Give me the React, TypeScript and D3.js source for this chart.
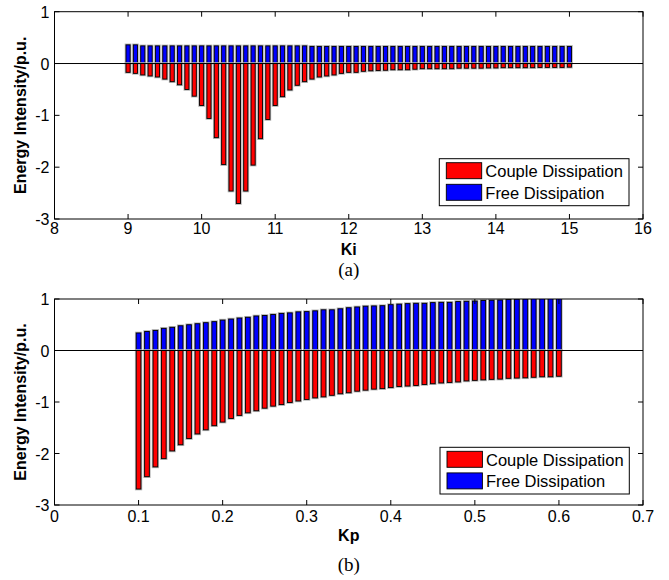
import React from "react";
import * as d3 from "d3";

const kiCats = [
  9.0, 9.1, 9.2, 9.3, 9.4, 9.5, 9.6, 9.7, 9.8, 9.9,
  10.0, 10.1, 10.2, 10.3, 10.4, 10.5, 10.6, 10.7, 10.8, 10.9,
  11.0, 11.1, 11.2, 11.3, 11.4, 11.5, 11.6, 11.7, 11.8, 11.9,
  12.0, 12.1, 12.2, 12.3, 12.4, 12.5, 12.6, 12.7, 12.8, 12.9,
  13.0, 13.1, 13.2, 13.3, 13.4, 13.5, 13.6, 13.7, 13.8, 13.9,
  14.0, 14.1, 14.2, 14.3, 14.4, 14.5, 14.6, 14.7, 14.8, 14.9, 15.0,
];
const kiCouple = [
  -0.17, -0.19, -0.22, -0.24, -0.26, -0.3, -0.35, -0.41, -0.5, -0.63,
  -0.81, -1.06, -1.43, -1.95, -2.46, -2.7, -2.46, -1.96, -1.45, -1.08,
  -0.81, -0.64, -0.51, -0.42, -0.35, -0.3, -0.26, -0.24, -0.22, -0.19,
  -0.17, -0.17, -0.15, -0.14, -0.135, -0.13, -0.12, -0.12, -0.12, -0.11,
  -0.1, -0.1, -0.1, -0.1, -0.1, -0.09, -0.09, -0.09, -0.09, -0.085,
  -0.085, -0.08, -0.08, -0.08, -0.08, -0.08, -0.075, -0.075, -0.075, -0.075, -0.07,
];
const kiFree = [
  0.36, 0.36, 0.34, 0.34, 0.34, 0.34, 0.34, 0.34, 0.34, 0.34,
  0.34, 0.34, 0.34, 0.34, 0.34, 0.34, 0.34, 0.34, 0.34, 0.34,
  0.34, 0.34, 0.34, 0.34, 0.34, 0.33, 0.33, 0.33, 0.33, 0.33,
  0.33, 0.33, 0.33, 0.33, 0.33, 0.33, 0.33, 0.33, 0.33, 0.33,
  0.33, 0.33, 0.33, 0.33, 0.33, 0.33, 0.33, 0.33, 0.33, 0.33,
  0.33, 0.33, 0.33, 0.33, 0.33, 0.33, 0.33, 0.33, 0.33, 0.33, 0.33,
];

const kpCats = [
  0.1, 0.11, 0.12, 0.13, 0.14, 0.15, 0.16, 0.17, 0.18, 0.19,
  0.2, 0.21, 0.22, 0.23, 0.24, 0.25, 0.26, 0.27, 0.28, 0.29,
  0.3, 0.31, 0.32, 0.33, 0.34, 0.35, 0.36, 0.37, 0.38, 0.39,
  0.4, 0.41, 0.42, 0.43, 0.44, 0.45, 0.46, 0.47, 0.48, 0.49,
  0.5, 0.51, 0.52, 0.53, 0.54, 0.55, 0.56, 0.57, 0.58, 0.59, 0.6,
];
const kpCouple = [
  -2.69, -2.45, -2.26, -2.1, -1.95, -1.83, -1.71, -1.62, -1.54, -1.46,
  -1.39, -1.32, -1.26, -1.21, -1.17, -1.12, -1.08, -1.05, -1.01, -0.98,
  -0.95, -0.92, -0.9, -0.87, -0.84, -0.82, -0.79, -0.77, -0.75, -0.74,
  -0.72, -0.7, -0.69, -0.68, -0.66, -0.645, -0.63, -0.62, -0.61, -0.59,
  -0.58, -0.57, -0.56, -0.555, -0.54, -0.535, -0.53, -0.52, -0.51, -0.51, -0.5,
];
const kpFree = [
  0.34, 0.37, 0.39, 0.43, 0.45, 0.48, 0.5, 0.52, 0.54, 0.56,
  0.59, 0.61, 0.63, 0.645, 0.67, 0.68, 0.7, 0.72, 0.73, 0.75,
  0.755, 0.77, 0.79, 0.79, 0.81, 0.83, 0.845, 0.86, 0.865, 0.87,
  0.89, 0.9, 0.91, 0.916, 0.916, 0.93, 0.935, 0.935, 0.95, 0.955,
  0.96, 0.97, 0.975, 0.98, 0.99, 0.995, 1.0, 1.01, 1.02, 1.02, 1.03,
];

const kiTicks = [8, 9, 10, 11, 12, 13, 14, 15, 16];
const kpTicks = [0, 0.1, 0.2, 0.3, 0.4, 0.5, 0.6, 0.7];
const yTicks = [-3, -2, -1, 0, 1];
const legendLabels = ["Couple Dissipation", "Free Dissipation"];
const seriesColors = ["#ff0000", "#0000ff"];

const FONT = "'Liberation Sans', Arial, Helvetica, sans-serif";

type PanelProps = {
  id: string;
  cats: number[];
  couple: number[];
  free: number[];
  xDomain: [number, number];
  xTicks: number[];
  step: number;
  top: number;
  bottom: number;
  xLabel: string;
  caption: string;
  tickFmt: (v: number) => string;
  tickBaseline: number;
  labelBaseline: number;
  captionBaseline: number;
  legendBox: { x: number; y: number; w: number; h: number };
};

function Panel(p: PanelProps) {
  const left = 54.5;
  const right = 643;
  const x = d3.scaleLinear().domain(p.xDomain).range([left, right]);
  const y = d3.scaleLinear().domain([-3, 1]).range([p.bottom, p.top]);
  const bw = Math.abs(x(p.step) - x(0)) * 0.56;
  const tickLen = 5;
  const lb = p.legendBox;
  const bars = (vals: number[], color: string, key: string) =>
    p.cats.map((c, i) => {
      const v = vals[i];
      const y0 = y(0);
      const y1 = y(v);
      const yy = Math.min(y0, y1);
      const hh = Math.abs(y1 - y0);
      return (
        <g key={key + i}>
          <rect x={x(c) - bw / 2} y={yy} width={bw} height={hh} fill="none" stroke="#b4b4b4" strokeWidth={2.6} />
          <rect x={x(c) - bw / 2} y={yy} width={bw} height={hh} fill={color} stroke="#000" strokeWidth={0.9} />
        </g>
      );
    });
  return (
    <g>
      <defs>
        <clipPath id={p.id + "clip"}>
          <rect x={left} y={p.top} width={right - left} height={p.bottom - p.top} />
        </clipPath>
      </defs>
      <g clipPath={`url(#${p.id}clip)`}>
        {bars(p.free, seriesColors[1], "f")}
        {bars(p.couple, seriesColors[0], "c")}
        <line x1={left} x2={right} y1={y(0)} y2={y(0)} stroke="#000" strokeWidth={1} />
      </g>
      <rect x={left} y={p.top} width={right - left} height={p.bottom - p.top} fill="none" stroke="#000" strokeWidth={1} />
      {p.xTicks.map((t) => (
        <g key={"xt" + t}>
          <line x1={x(t)} x2={x(t)} y1={p.bottom} y2={p.bottom - tickLen} stroke="#000" />
          <line x1={x(t)} x2={x(t)} y1={p.top} y2={p.top + tickLen} stroke="#000" />
          <text x={x(t)} y={p.tickBaseline} textAnchor="middle" fontFamily={FONT} fontSize={16} fill="#000">
            {p.tickFmt(t)}
          </text>
        </g>
      ))}
      {yTicks.map((t) => (
        <g key={"yt" + t}>
          <line x1={left} x2={left + tickLen} y1={y(t)} y2={y(t)} stroke="#000" />
          <line x1={right} x2={right - tickLen} y1={y(t)} y2={y(t)} stroke="#000" />
          <text x={left - 5} y={y(t) + 6} textAnchor="end" fontFamily={FONT} fontSize={16} fill="#000">
            {t}
          </text>
        </g>
      ))}
      <text
        transform={`translate(26,${(p.top + p.bottom) / 2}) rotate(-90)`}
        textAnchor="middle"
        fontFamily={FONT}
        fontWeight="bold"
        fontSize={16}
        fill="#000"
      >
        Energy Intensity/p.u.
      </text>
      <text x={(left + right) / 2} y={p.labelBaseline} textAnchor="middle" fontFamily={FONT} fontWeight="bold" fontSize={16} fill="#000">
        {p.xLabel}
      </text>
      <text x={(left + right) / 2} y={p.captionBaseline} textAnchor="middle" fontFamily="'Liberation Serif', 'Times New Roman', serif" fontSize={19} fill="#000">
        {p.caption}
      </text>
      <g>
        <rect x={lb.x} y={lb.y} width={lb.w} height={lb.h} fill="#fff" stroke="#000" strokeWidth={1} />
        {legendLabels.map((l, i) => (
          <g key={l}>
            <rect x={lb.x + 7} y={lb.y + 4 + i * 21.6} width={35.4} height={16} fill={seriesColors[i]} stroke="#000" strokeWidth={0.9} />
            <text x={lb.x + 46} y={lb.y + 18.5 + i * 21.6} fontFamily={FONT} fontSize={16.5} fill="#000">
              {l}
            </text>
          </g>
        ))}
      </g>
    </g>
  );
}

export default function App() {
  return (
    <svg width={669} height={580} style={{ position: "absolute", left: 0, top: 0, background: "#fff" }}>
      <rect x={0} y={0} width={669} height={580} fill="#fff" />
      <Panel
        id="a"
        cats={kiCats}
        couple={kiCouple}
        free={kiFree}
        xDomain={[8, 16]}
        xTicks={kiTicks}
        step={0.1}
        top={11.7}
        bottom={219}
        xLabel="Ki"
        caption="(a)"
        tickFmt={(v) => String(v)}
        tickBaseline={233.5}
        labelBaseline={255}
        captionBaseline={276}
        legendBox={{ x: 439.3, y: 158.7, w: 189.7, h: 47 }}
      />
      <Panel
        id="b"
        cats={kpCats}
        couple={kpCouple}
        free={kpFree}
        xDomain={[0, 0.7]}
        xTicks={kpTicks}
        step={0.01}
        top={299}
        bottom={505}
        xLabel="Kp"
        caption="(b)"
        tickFmt={(v) => (v === 0 ? "0" : d3.format(".1f")(v))}
        tickBaseline={521.5}
        labelBaseline={541}
        captionBaseline={571}
        legendBox={{ x: 440, y: 447.3, w: 189.3, h: 46.7 }}
      />
    </svg>
  );
}
